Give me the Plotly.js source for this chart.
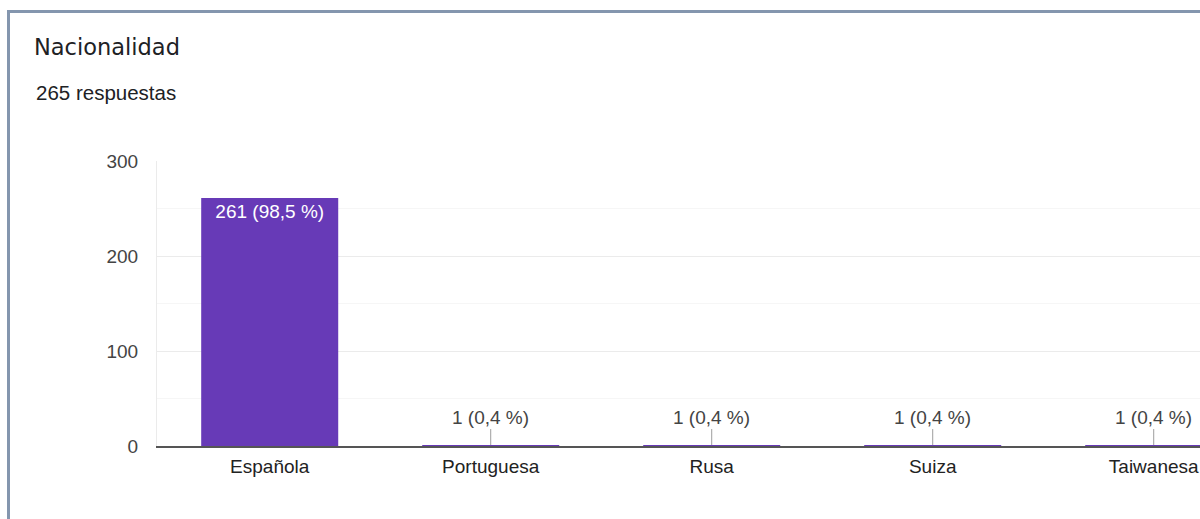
<!DOCTYPE html>
<html>
<head>
<meta charset="utf-8">
<script src="https://cdn.plot.ly/plotly-3.0.1.min.js"></script>
<style>
  html, body { margin: 0; padding: 0; width: 1200px; height: 519px; overflow: hidden; background: #fff; }
  #chart { position: absolute; left: 0; top: 0; width: 1320px; height: 519px; }
  #frame { position: absolute; left: 7px; top: 10px; width: 1300px; height: 520px;
           border-left: 3px solid #8496ae; border-top: 3px solid #8496ae; pointer-events: none; }
</style>
</head>
<body>
<div id="chart"></div>
<div id="frame"></div>
<script>
// Respuestas por nacionalidad
const categories = ['Española', 'Portuguesa', 'Rusa', 'Suiza', 'Taiwanesa'];
const counts = [261, 1, 1, 1, 1];
const totalResponses = 265;
const yTicks = [0, 100, 200, 300];

const fmtPct = v => (v / totalResponses * 100).toFixed(1).replace('.', ',');
const labels = counts.map(v => v + ' (' + fmtPct(v) + ' %)');

// Large bars get their label inside; tiny bars get a label with a leader line
const bigThreshold = 20;
const insideText = counts.map((v, i) => v >= bigThreshold ? labels[i] : '');

const W = 1320, H = 519, L = 157, T = 161, B = 73, R = 58;
const plotH = H - T - B;
const FONT = 'Arial, "Liberation Sans", sans-serif';

const annotations = [];
counts.forEach((v, i) => {
  if (v < bigThreshold) {
    annotations.push({
      x: categories[i], y: v, xref: 'x', yref: 'y',
      text: labels[i], showarrow: true, arrowhead: 0, arrowwidth: 1,
      arrowcolor: '#9e9e9e', ax: 0, ay: -28, standoff: 0,
      font: { family: FONT, size: 19, color: '#444' }
    });
  }
});
annotations.push({
  xref: 'paper', yref: 'paper', x: 0, y: (H - B - 93) / plotH,
  xshift: 34 - L, xanchor: 'left', yanchor: 'middle', showarrow: false,
  text: totalResponses + ' respuestas',
  font: { family: FONT, size: 20.5, color: '#202124' }
});

const trace = {
  type: 'bar', x: categories, y: counts,
  marker: { color: '#673ab7' }, width: 0.62,
  text: insideText, textposition: 'inside', insidetextanchor: 'end',
  textangle: 0, constraintext: 'none',
  insidetextfont: { family: FONT, size: 19, color: '#ffffff' },
  hoverinfo: 'skip', cliponaxis: false
};

const layout = {
  width: W, height: H,
  margin: { l: L, r: R, t: T, b: B, pad: 0 },
  paper_bgcolor: '#ffffff', plot_bgcolor: '#ffffff',
  showlegend: false,
  title: {
    text: 'Nacionalidad', x: 34 / W, xanchor: 'left', y: 1 - 47 / H, yanchor: 'middle',
    font: { family: '"DejaVu Sans", Arial, sans-serif', size: 22.5, color: '#202124' }
  },
  xaxis: {
    type: 'category', range: [-0.51, 4.49],
    showline: true, linecolor: '#555555', linewidth: 2,
    showgrid: false, ticks: '', ticklabelstandoff: 2,
    tickfont: { family: FONT, size: 19, color: '#222' }
  },
  yaxis: {
    range: [0, 300], tickvals: yTicks, ticktext: yTicks.map(String),
    showgrid: true, gridcolor: '#ebebeb', gridwidth: 1,
    minor: { dtick: 50, showgrid: true, gridcolor: '#f6f6f6', gridwidth: 1 },
    zeroline: false, showline: true, linecolor: '#ebebeb', linewidth: 1,
    ticks: '', ticklabelstandoff: 14,
    tickfont: { family: FONT, size: 19, color: '#444' }
  },
  annotations: annotations
};

Plotly.newPlot('chart', [trace], layout, { displayModeBar: false, staticPlot: true });
</script>
</body>
</html>
